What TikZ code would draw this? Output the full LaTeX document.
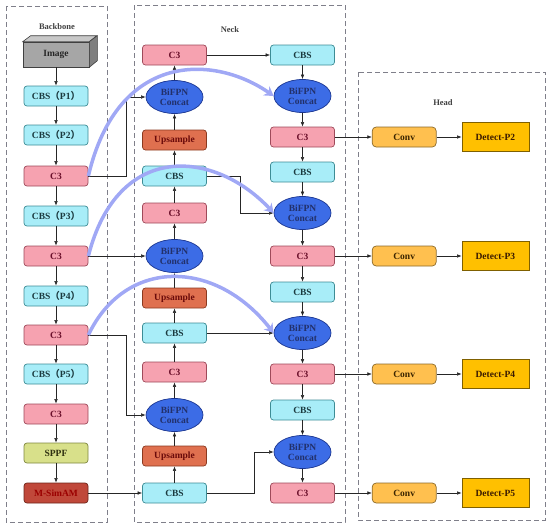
\documentclass[tikz,border=0pt]{standalone}
\usepackage{fontspec}
\setmainfont{Liberation Serif}
\newfontfamily\cjkfont{Noto Sans CJK SC}
\usetikzlibrary{positioning, arrows.meta, shapes.geometric}
\definecolor{cbsFill}{HTML}{A8EDF8}
\definecolor{cbsLine}{HTML}{3D8C95}
\definecolor{cbsText}{HTML}{1B3A3F}
\definecolor{cFill}{HTML}{F6A2B0}
\definecolor{cLine}{HTML}{9E4A5A}
\definecolor{cText}{HTML}{6A0F2A}
\definecolor{upFill}{HTML}{DF704F}
\definecolor{upLine}{HTML}{8A3A20}
\definecolor{upText}{HTML}{6A0A0A}
\definecolor{bfFill}{HTML}{3C6CE6}
\definecolor{bfLine}{HTML}{1A3590}
\definecolor{bfText}{HTML}{22306A}
\definecolor{sppfFill}{HTML}{D8E08A}
\definecolor{sppfLine}{HTML}{7F8740}
\definecolor{sppfText}{HTML}{2F3010}
\definecolor{samFill}{HTML}{C0483A}
\definecolor{samLine}{HTML}{6E2418}
\definecolor{samText}{HTML}{9B0000}
\definecolor{imgFill}{HTML}{A6A6A6}
\definecolor{imgTop}{HTML}{C8C8C8}
\definecolor{imgSide}{HTML}{7F7F7F}
\definecolor{imgLine}{HTML}{404040}
\definecolor{convFill}{HTML}{FFC04F}
\definecolor{convLine}{HTML}{8C6A2A}
\definecolor{convText}{HTML}{3A2400}
\definecolor{detFill}{HTML}{FFC000}
\definecolor{detLine}{HTML}{7F6000}
\definecolor{detText}{HTML}{3A1A00}
\definecolor{regionGray}{HTML}{7F7F8A}
\definecolor{fuseBlue}{HTML}{A0A8F5}
\newcommand{\fwl}{{\cjkfont （}}
\newcommand{\fwr}{{\cjkfont ）}}

\begin{document}
\begin{tikzpicture}[x=1pt, y=-1pt, font=\fontsize{9.5}{10.5}\selectfont\bfseries,
    blk/.style={draw, rounded corners=3pt, line width=0.7pt, minimum width=64pt, minimum height=20pt, inner sep=1pt},
    cbs/.style={blk, fill=cbsFill, draw=cbsLine, text=cbsText},
    cthree/.style={blk, fill=cFill, draw=cLine, text=cText},
    upsmp/.style={blk, fill=upFill, draw=upLine, text=upText},
    sppf/.style={blk, fill=sppfFill, draw=sppfLine, text=sppfText},
    simam/.style={blk, fill=samFill, draw=samLine, text=samText},
    bifpn/.style={ellipse, draw=bfLine, fill=bfFill, text=bfText, line width=0.7pt,
                  minimum width=57pt, minimum height=33pt, inner sep=0pt, align=center},
    conv/.style={blk, rounded corners=4pt, fill=convFill, draw=convLine, text=convText},
    detect/.style={draw=detLine, fill=detFill, text=detText, line width=0.7pt, minimum width=67pt, minimum height=29pt},
    region/.style={draw=regionGray, dash pattern=on 5pt off 3pt, line width=0.8pt},
    grouplabel/.style={text=black!75, font=\fontsize{8.5}{9.5}\selectfont\bfseries},
    link/.style={-{Latex[length=4.5pt,width=3.5pt]}, line width=0.5pt, black!85},
    fuse/.style={-{Stealth[length=9pt,width=11pt]}, line width=3.5pt, fuseBlue}]
    \useasboundingbox (0,0) rectangle (550,528);

    % dashed regions
    \draw[region] (6,6) rectangle (107,522);
    \draw[region] (134,5) rectangle (345,522);
    \draw[region] (358,72) rectangle (545,520);
    \node[grouplabel] (lbb) at (57,27) {Backbone};
    \node[grouplabel] (lnk) at (230,30) {Neck};
    \node[grouplabel] (lhd) at (443,103) {Head};

    % backbone
    \node[draw=imgLine, fill=imgFill, text=black!85, line width=0.6pt,
          minimum width=66pt, minimum height=25pt] (img) at (56,54.5) {Image};
    \draw[draw=imgLine, fill=imgTop, line width=0.6pt] (img.north west) -- ++(8,-6) -- ++(66,0) -- (img.north east) -- cycle;
    \draw[draw=imgLine, fill=imgSide, line width=0.6pt] (img.north east) -- ++(8,-6) -- ++(0,25) -- (img.south east) -- cycle;
    \node[cbs] (b1) at (56,96) {CBS\fwl P1\fwr};
    \node[cbs] (b2) at (56,135) {CBS\fwl P2\fwr};
    \node[cthree] (b3) at (56,176) {C3};
    \node[cbs] (b4) at (56,216) {CBS\fwl P3\fwr};
    \node[cthree] (b5) at (56,256) {C3};
    \node[cbs] (b6) at (56,296) {CBS\fwl P4\fwr};
    \node[cthree] (b7) at (56,335) {C3};
    \node[cbs] (b8) at (56,374) {CBS\fwl P5\fwr};
    \node[cthree] (b9) at (56,414) {C3};
    \node[sppf] (b10) at (56,453) {SPPF};
    \node[simam] (b11) at (56,493) {M-SimAM};

    % neck, upward column
    \node[cbs] (u1) at (174.5,493) {CBS};
    \node[upsmp] (u2) at (174.5,456) {Upsample};
    \node[bifpn] (u3) at (174.5,415) {BiFPN\\Concat};
    \node[cthree] (u4) at (174.5,372) {C3};
    \node[cbs] (u5) at (174.5,333) {CBS};
    \node[upsmp] (u6) at (174.5,298) {Upsample};
    \node[bifpn] (u7) at (174.5,256) {BiFPN\\Concat};
    \node[cthree] (u8) at (174.5,213) {C3};
    \node[cbs] (u9) at (174.5,176) {CBS};
    \node[upsmp] (u10) at (174.5,140) {Upsample};
    \node[bifpn] (u11) at (174.5,97) {BiFPN\\Concat};
    \node[cthree] (u12) at (174.5,55) {C3};

    % neck, downward column
    \node[cbs] (v1) at (302.5,55) {CBS};
    \node[bifpn] (v2) at (302.5,96) {BiFPN\\Concat};
    \node[cthree] (v3) at (302.5,137) {C3};
    \node[cbs] (v4) at (302.5,172) {CBS};
    \node[bifpn] (v5) at (302.5,213) {BiFPN\\Concat};
    \node[cthree] (v6) at (302.5,256) {C3};
    \node[cbs] (v7) at (302.5,292) {CBS};
    \node[bifpn] (v8) at (302.5,333) {BiFPN\\Concat};
    \node[cthree] (v9) at (302.5,374) {C3};
    \node[cbs] (v10) at (302.5,410) {CBS};
    \node[bifpn] (v11) at (302.5,452) {BiFPN\\Concat};
    \node[cthree] (v12) at (302.5,493) {C3};

    % head
    \node[conv, right=37pt of v3] (cv1) {Conv};
    \node[detect, right=25pt of cv1] (dt1) {Detect-P2};
    \node[conv, right=37pt of v6] (cv2) {Conv};
    \node[detect, right=25pt of cv2] (dt2) {Detect-P3};
    \node[conv, right=37pt of v9] (cv3) {Conv};
    \node[detect, right=25pt of cv3] (dt3) {Detect-P4};
    \node[conv, right=37pt of v12] (cv4) {Conv};
    \node[detect, right=25pt of cv4] (dt4) {Detect-P5};

    % backbone links
    \draw[link] (img) -- (b1);
    \draw[link] (b1) -- (b2);
    \draw[link] (b2) -- (b3);
    \draw[link] (b3) -- (b4);
    \draw[link] (b4) -- (b5);
    \draw[link] (b5) -- (b6);
    \draw[link] (b6) -- (b7);
    \draw[link] (b7) -- (b8);
    \draw[link] (b8) -- (b9);
    \draw[link] (b9) -- (b10);
    \draw[link] (b10) -- (b11);
    \draw[link] (b3.east) -- ++(38,0) |- (u11.west);
    \draw[link] (b5) -- (u7);
    \draw[link] (b7.east) -- ++(38,0) |- (u3.west);
    \draw[link] (b11) -- (u1);

    % neck links
    \draw[link] (u1) -- (u2);
    \draw[link] (u2) -- (u3);
    \draw[link] (u3) -- (u4);
    \draw[link] (u4) -- (u5);
    \draw[link] (u5) -- (u6);
    \draw[link] (u6) -- (u7);
    \draw[link] (u7) -- (u8);
    \draw[link] (u8) -- (u9);
    \draw[link] (u9) -- (u10);
    \draw[link] (u10) -- (u11);
    \draw[link] (u11) -- (u12);
    \draw[link] (u12) -- (v1);
    \draw[link] (v1) -- (v2);
    \draw[link] (v2) -- (v3);
    \draw[link] (v3) -- (v4);
    \draw[link] (v4) -- (v5);
    \draw[link] (v5) -- (v6);
    \draw[link] (v6) -- (v7);
    \draw[link] (v7) -- (v8);
    \draw[link] (v8) -- (v9);
    \draw[link] (v9) -- (v10);
    \draw[link] (v10) -- (v11);
    \draw[link] (v11) -- (v12);
    \draw[link] (u9.east) -- ++(33,0) |- (v5.west);
    \draw[link] (u5) -- (v8);
    \draw[link] (u1.east) -- ++(47,0) |- (v11.west);

    % head links
    \draw[link] (v3) -- (cv1);
    \draw[link] (cv1) -- (dt1);
    \draw[link] (v6) -- (cv2);
    \draw[link] (cv2) -- (dt2);
    \draw[link] (v9) -- (cv3);
    \draw[link] (cv3) -- (dt3);
    \draw[link] (v12) -- (cv4);
    \draw[link] (cv4) -- (dt4);

    % skip fusions
    \draw[fuse] (b3.east) .. controls (118,50) and (215,55) .. (v2.west);
    \draw[fuse] (b5.east) .. controls (118,140) and (215,150) .. (v5.west);
    \draw[fuse] (b7.east) .. controls (125,258) and (215,258) .. (v8.west);
\end{tikzpicture}
\end{document}
